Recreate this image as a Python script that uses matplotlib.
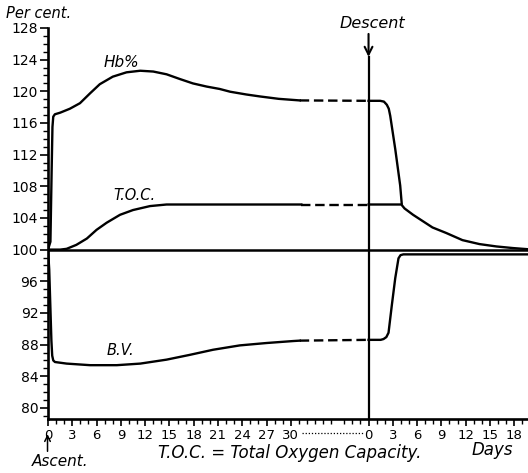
import numpy as np
import matplotlib
matplotlib.use('Agg')
import matplotlib.pyplot as plt
import matplotlib.transforms as mtransforms

# Values (per cent of initial value)
# Period 1: days after ascent
hb_days_1 = [0, 0.3, 0.45, 0.55, 0.65, 0.85, 1.5, 2.7, 3.95, 5.2, 6.4, 8.0, 9.7, 11.4, 13.0,
             14.65, 16.3, 17.9, 19.6, 21.2, 22.5, 24.5, 26.2, 28.5, 31.1]
hb_vals_1 = [100, 101, 110, 115.5, 116.8, 117.1, 117.3, 117.8, 118.5, 119.75, 120.9, 121.85,
             122.4, 122.6, 122.5, 122.15, 121.55, 121.0, 120.6, 120.3, 119.95, 119.6, 119.35,
             119.05, 118.85]

toc_days_1 = [0, 1.5, 2.3, 3.5, 4.8, 6.0, 7.25, 8.9, 10.5, 12.6, 14.65, 31.3]
toc_vals_1 = [100, 100, 100.1, 100.6, 101.4, 102.5, 103.4, 104.4, 105.0, 105.5, 105.7, 105.7]

bv_days_1 = [0, 0.15, 0.3, 0.42, 0.52, 0.65, 0.86, 2.3, 5.2, 8.5, 11.4, 14.65, 17.5, 20.4,
             23.7, 27.0, 30.3, 31.1]
bv_vals_1 = [100, 97.5, 92.5, 88.5, 86.6, 86.0, 85.8, 85.6, 85.4, 85.4, 85.6, 86.1, 86.7,
             87.35, 87.9, 88.2, 88.45, 88.5]

# Period 2: days after descent
hb_days_2 = [0, 1.44, 1.9, 2.26, 2.5, 2.68, 3.3, 3.91, 4.1]
hb_vals_2 = [118.8, 118.8, 118.7, 118.3, 117.8, 116.9, 112.7, 108.1, 105.8]

toc_days_2 = [0, 4.05, 4.45, 5.5, 6.7, 7.9, 9.6, 11.6, 13.7, 15.8, 17.8, 19.7]
toc_vals_2 = [105.7, 105.7, 105.2, 104.4, 103.6, 102.8, 102.1, 101.2, 100.7, 100.4, 100.2, 100.05]

bv_days_2 = [0, 1.5, 1.85, 2.2, 2.47, 2.88, 3.3, 3.7, 3.95, 4.3, 19.8]
bv_vals_2 = [88.6, 88.6, 88.7, 88.95, 89.5, 93.0, 96.4, 98.9, 99.3, 99.4, 99.4]

labels_1 = [0, 3, 6, 9, 12, 15, 18, 21, 24, 27, 30]
labels_2 = [0, 3, 6, 9, 12, 15, 18]

descent = 39.6  # where day 0 after descent sits on the broken time axis

plt.rcParams['font.family'] = 'DejaVu Sans'
fig = plt.figure(figsize=(5.28, 4.73), dpi=100)
ax = fig.add_axes([48 / 528, 54 / 473, 480 / 528, 391 / 473])
ax.set_xlim(0, 59.3)
ax.set_ylim(78.6, 128)

lw = 1.7
dash = (0, (4, 2))
x2 = lambda d: [descent + v for v in d]

# reference line at 100
ax.axhline(100, color='black', lw=1.8)

# Hb%
ax.plot(hb_days_1, hb_vals_1, color='black', lw=lw)
ax.plot([hb_days_1[-1], descent + hb_days_2[0]], [hb_vals_1[-1], hb_vals_2[0]],
        color='black', lw=lw, ls=dash)
ax.plot(x2(hb_days_2), hb_vals_2, color='black', lw=lw)

# T.O.C.
ax.plot(toc_days_1, toc_vals_1, color='black', lw=lw)
ax.plot([toc_days_1[-1], descent + toc_days_2[0]], [toc_vals_1[-1], toc_vals_2[0]],
        color='black', lw=lw, ls=dash)
ax.plot(x2(toc_days_2), toc_vals_2, color='black', lw=lw)

# B.V.
ax.plot(bv_days_1, bv_vals_1, color='black', lw=lw)
ax.plot([bv_days_1[-1], descent + bv_days_2[0]], [bv_vals_1[-1], bv_vals_2[0]],
        color='black', lw=lw, ls=dash)
ax.plot(x2(bv_days_2), bv_vals_2, color='black', lw=lw)

# descent marker
ax.plot([descent, descent], [78.6, 124.3], color='black', lw=1.6, clip_on=False)
ax.annotate('', xy=(descent, 124.0), xytext=(descent, 127.6),
            arrowprops=dict(arrowstyle='->', lw=1.5, color='black',
                            mutation_scale=14), annotation_clip=False)

# axes styling
for s in ['top', 'right']:
    ax.spines[s].set_visible(False)
for s in ['left', 'bottom']:
    ax.spines[s].set_linewidth(1.9)

ax.set_yticks(np.arange(80, 129, 4))
ax.set_yticks(np.arange(79, 129, 1), minor=True)
ax.tick_params(axis='y', which='major', length=6, width=1.2, pad=1, labelsize=10)
ax.tick_params(axis='y', which='minor', length=3.5, width=1)

major_x = list(labels_1) + [descent + v for v in labels_2]
ax.set_xticks(major_x)
ax.set_xticklabels([str(v) for v in labels_1] + [str(v) for v in labels_2])
minor_x = list(range(0, 36)) + [descent + k for k in range(-3, 20)]
ax.set_xticks(minor_x, minor=True)
ax.tick_params(axis='x', which='major', length=5, width=1.2, pad=2, labelsize=9.5)
ax.tick_params(axis='x', which='minor', length=3.5, width=1)

# dotted link between the two parts of the time axis
trans = mtransforms.blended_transform_factory(ax.transData, ax.transAxes)
ax.plot([31.4, 38.9], [-0.037, -0.037], transform=trans, color='black', lw=0.9,
        ls=(0, (1, 1.5)), clip_on=False)

# curve labels
ax.text(9.1, 123.7, 'Hb%', ha='center', va='center', fontsize=11, style='italic')
ax.text(10.7, 106.9, 'T.O.C.', ha='center', va='center', fontsize=10.5, style='italic')
ax.text(9.0, 87.3, 'B.V.', ha='center', va='center', fontsize=10.5, style='italic')

# annotations around the frame
fig.text(0.012, 0.972, 'Per cent.', ha='left', va='center', fontsize=10.5, style='italic')
fig.text(0.705, 0.951, 'Descent', ha='center', va='center', fontsize=11.5, style='italic')
fig.text(0.549, 0.042, 'T.O.C. = Total Oxygen Capacity.', ha='center', va='center',
         fontsize=12, style='italic')
fig.text(0.932, 0.049, 'Days', ha='center', va='center', fontsize=12, style='italic')
fig.text(0.114, 0.025, 'Ascent.', ha='center', va='center', fontsize=11, style='italic')
ax.annotate('', xy=(0.09, 0.088), xytext=(0.09, 0.040), xycoords='figure fraction',
            arrowprops=dict(arrowstyle='->', lw=1.1, color='black', mutation_scale=10))

fig.savefig('out.png', dpi=100)
